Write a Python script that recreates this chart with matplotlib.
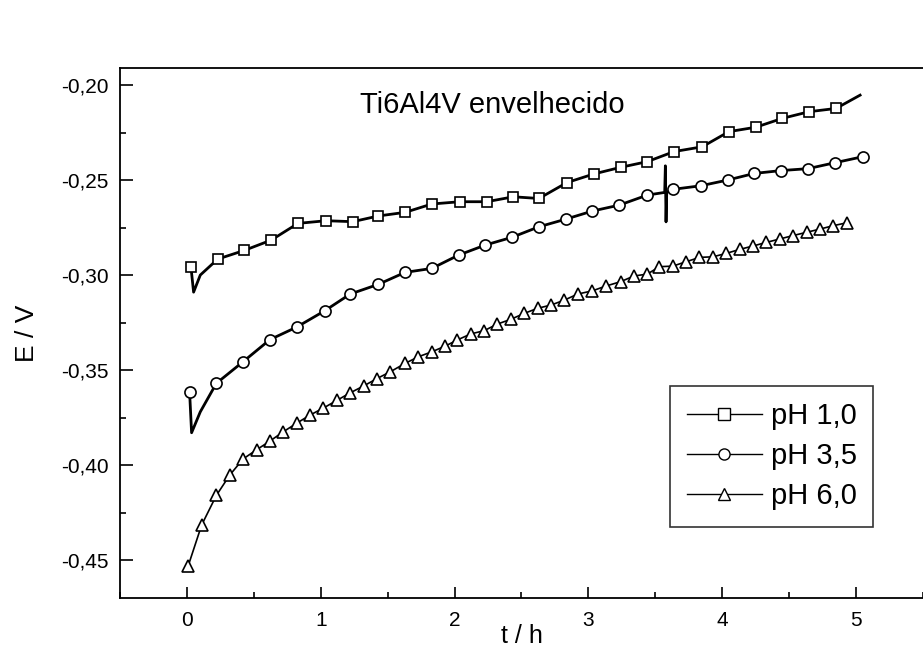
"""Open-circuit potential vs time, Ti6Al4V envelhecido, three pH values."""

import matplotlib

matplotlib.use("Agg")
import matplotlib.pyplot as plt
import numpy as np
from matplotlib.lines import Line2D
from matplotlib.ticker import MultipleLocator

plt.rcParams["font.family"] = ["Liberation Sans", "DejaVu Sans"]

# --- data (t in h, E in V) ---
t_ph1 = [0.03, 0.23, 0.43, 0.63, 0.83, 1.04, 1.24, 1.43, 1.63, 1.83, 2.04, 2.24, 2.44,
         2.63, 2.84, 3.04, 3.24, 3.44, 3.64, 3.85, 4.05, 4.25, 4.45, 4.65, 4.85]
e_ph1 = [-0.2956, -0.2916, -0.2870, -0.2816, -0.2728, -0.2714, -0.2719, -0.2689, -0.2670,
         -0.2626, -0.2614, -0.2614, -0.2588, -0.2597, -0.2513, -0.2468, -0.2433, -0.2403,
         -0.2350, -0.2325, -0.2245, -0.2222, -0.2175, -0.2140, -0.2123]
# line-only points (initial dip, tail end)
t_ph1_extra = [0.05, 0.10, 5.03]
e_ph1_extra = [-0.3090, -0.3000, -0.2053]

t_ph35 = [0.02, 0.22, 0.42, 0.62, 0.82, 1.03, 1.22, 1.43, 1.63, 1.83, 2.03, 2.23, 2.43,
          2.63, 2.83, 3.03, 3.23, 3.44, 3.63, 3.84, 4.04, 4.24, 4.44, 4.64, 4.84, 5.05]
e_ph35 = [-0.3614, -0.3570, -0.3456, -0.3340, -0.3274, -0.3188, -0.3100, -0.3049, -0.2986,
          -0.2965, -0.2895, -0.2842, -0.2801, -0.2746, -0.2706, -0.2663, -0.2632, -0.2579,
          -0.2549, -0.2530, -0.2500, -0.2465, -0.2450, -0.2440, -0.2409, -0.2377]
# line-only points (initial dip, spike near 3.6 h)
t_ph35_extra = [0.035, 0.10, 3.570, 3.575, 3.580, 3.585]
e_ph35_extra = [-0.3830, -0.3720, -0.2565, -0.2425, -0.2720, -0.2565]

t_ph6 = [0.01, 0.11, 0.22, 0.32, 0.42, 0.52, 0.62, 0.72, 0.82, 0.92, 1.02, 1.12, 1.22,
         1.32, 1.42, 1.52, 1.63, 1.73, 1.83, 1.93, 2.02, 2.12, 2.22, 2.32, 2.42, 2.52,
         2.62, 2.72, 2.82, 2.92, 3.03, 3.13, 3.24, 3.34, 3.44, 3.53, 3.63, 3.73, 3.83,
         3.93, 4.03, 4.13, 4.23, 4.33, 4.43, 4.53, 4.63, 4.73, 4.83, 4.93]
e_ph6 = [-0.4530, -0.4316, -0.4160, -0.4053, -0.3968, -0.3920, -0.3874, -0.3825, -0.3780,
         -0.3737, -0.3700, -0.3660, -0.3620, -0.3584, -0.3545, -0.3509, -0.3465, -0.3430,
         -0.3404, -0.3374, -0.3342, -0.3310, -0.3293, -0.3258, -0.3233, -0.3202, -0.3175,
         -0.3158, -0.3132, -0.3100, -0.3083, -0.3058, -0.3035, -0.3005, -0.2995, -0.2956,
         -0.2953, -0.2930, -0.2907, -0.2904, -0.2886, -0.2865, -0.2847, -0.2828, -0.2810,
         -0.2792, -0.2775, -0.2758, -0.2740, -0.2725]

labels = ["pH 1,0", "pH 3,5", "pH 6,0"]
xticks = [0, 1, 2, 3, 4, 5]
yticks = [-0.45, -0.40, -0.35, -0.30, -0.25, -0.20]
ytick_labels = ["-0,45", "-0,40", "-0,35", "-0,30", "-0,25", "-0,20"]
title = "Ti6Al4V envelhecido"


def line_points(t, e, t_extra, e_extra):
    tt = np.concatenate([t, t_extra])
    ee = np.concatenate([e, e_extra])
    order = np.argsort(tt, kind="stable")
    return tt[order], ee[order]


fig = plt.figure(figsize=(9.23, 6.53), dpi=100)
ax = fig.add_axes([0.130, 0.0842, 0.870, 0.8117])

series = [
    (t_ph1, e_ph1, t_ph1_extra, e_ph1_extra, "s", 7.5, 2.0),
    (t_ph35, e_ph35, t_ph35_extra, e_ph35_extra, "o", 8.0, 2.0),
    (t_ph6, e_ph6, [], [], "^", 9.0, 1.2),
]
handles = []
for (t, e, tx, ex, mk, ms, lw), lab in zip(series, labels):
    lt, le = line_points(t, e, tx, ex)
    ax.plot(lt, le, color="black", lw=lw, zorder=2)
    ax.plot(t, e, ls="none", marker=mk, ms=ms, mfc="white", mec="black", mew=1.2, zorder=3)
    handles.append(Line2D([], [], color="black", lw=1.0, marker=mk, ms=8,
                          mfc="white", mec="black", mew=1.0, label=lab))

ax.set_xlim(-0.5, 5.5)
ax.set_ylim(-0.47, -0.191)
ax.set_xticks(xticks)
ax.set_xticklabels([str(v) for v in xticks])
ax.set_yticks(yticks)
ax.set_yticklabels(ytick_labels)
ax.xaxis.set_minor_locator(MultipleLocator(0.5))
ax.yaxis.set_minor_locator(MultipleLocator(0.025))
ax.tick_params(which="both", direction="in", top=False, right=False, width=1.2,
               labelsize=15)
ax.tick_params(axis="x", which="major", length=8, pad=9)
ax.tick_params(axis="y", which="major", length=9, pad=8)
ax.tick_params(which="minor", length=4)
for s in ax.spines.values():
    s.set_linewidth(1.3)
ax.spines["right"].set_visible(False)

ax.set_xlabel("t / h", fontsize=18, labelpad=-4)
ax.set_ylabel("E / V", fontsize=19, labelpad=16)
ax.text(1.29, -0.2147, title, fontsize=21, va="baseline", ha="left")

leg = ax.legend(handles=handles, loc="upper right", bbox_to_anchor=(0.946, 0.409),
                bbox_transform=fig.transFigure, fontsize=21, frameon=True,
                fancybox=False, handlelength=2.6, handletextpad=0.3,
                labelspacing=0.42, borderpad=0.55, borderaxespad=0)
leg.get_frame().set_edgecolor("black")
leg.get_frame().set_linewidth(1.2)

fig.savefig("out.png", dpi=100)
